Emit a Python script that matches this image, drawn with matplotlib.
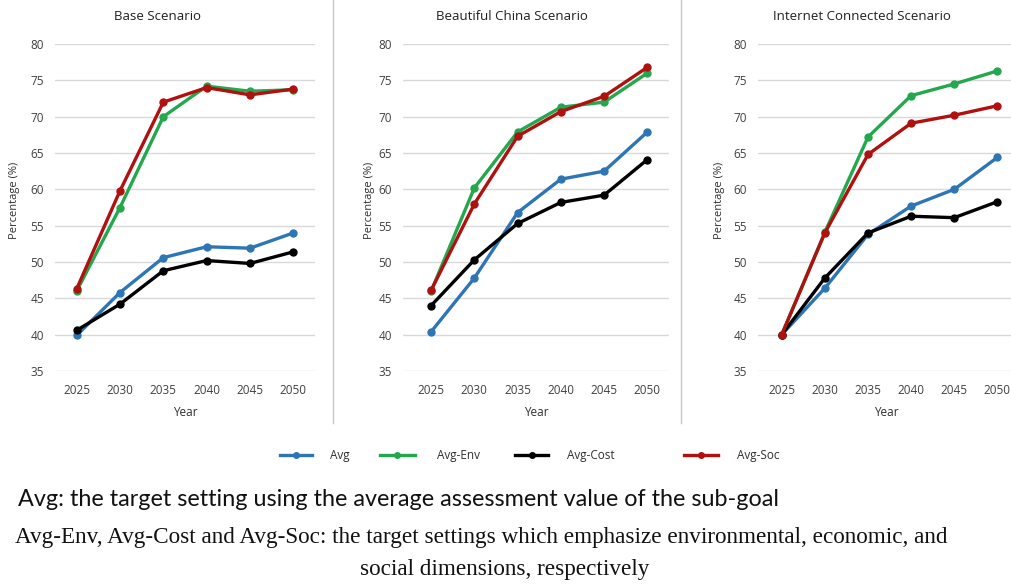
import matplotlib.pyplot as plt
from matplotlib.lines import Line2D

years = ['2025', '2030', '2035', '2040', '2045', '2050']
series_names = ['Avg', 'Avg-Env', 'Avg-Cost', 'Avg-Soc']
colors = ['#2E75B6', '#23A84E', '#000000', '#B01010']

titles = ['Base Scenario', 'Beautiful China Scenario', 'Internet Connected Scenario']

base_avg = [39.9, 45.8, 50.6, 52.1, 51.9, 54.0]
base_env = [46.0, 57.5, 70.0, 74.2, 73.5, 73.7]
base_cost = [40.6, 44.2, 48.8, 50.2, 49.8, 51.4]
base_soc = [46.3, 59.8, 72.0, 74.0, 73.0, 73.8]

china_avg = [40.4, 47.8, 56.8, 61.4, 62.5, 67.9]
china_env = [46.0, 60.2, 67.9, 71.3, 72.0, 76.0]
china_cost = [44.0, 50.3, 55.3, 58.2, 59.2, 64.1]
china_soc = [46.1, 58.0, 67.3, 70.7, 72.8, 76.8]

net_avg = [40.0, 46.4, 53.8, 57.7, 60.0, 64.4]
net_env = [40.0, 54.1, 67.2, 72.9, 74.5, 76.3]
net_cost = [40.0, 47.8, 54.0, 56.3, 56.1, 58.3]
net_soc = [40.0, 54.0, 64.8, 69.1, 70.2, 71.5]

panels = [
    [base_avg, base_env, base_cost, base_soc],
    [china_avg, china_env, china_cost, china_soc],
    [net_avg, net_env, net_cost, net_soc],
]

caption1 = 'Avg: the target setting using the average assessment value of the sub-goal'
caption2 = 'Avg-Env, Avg-Cost and Avg-Soc: the target settings which emphasize environmental, economic, and'
caption3 = 'social dimensions, respectively'

plt.rcParams['font.family'] = ['Open Sans', 'DejaVu Sans']

W, H = 1012, 586
fig = plt.figure(figsize=(W / 100, H / 100), dpi=100)

# axes boxes in pixels: left, right, top, bottom
boxes = [(55, 315, 44, 371), (403, 669, 44, 371), (758, 1019, 44, 371)]
xlims = [(-0.5, 5.5), (-0.65, 5.5), (-0.55, 5.5)]
title_x = [158, 512, 862]
ylab_x = [15, 370, 720]
year_x = [185, 536, 886]

x = list(range(len(years)))
for i, data in enumerate(panels):
    l, r, t, b = boxes[i]
    ax = fig.add_axes([l / W, 1 - b / H, (r - l) / W, (b - t) / H])
    for vals, c, name in zip(data, colors, series_names):
        ax.plot(x, vals, color=c, lw=2.4, marker='o', ms=5, label=name, zorder=3,
                clip_on=False)
    ax.set_ylim(35, 80)
    ax.set_yticks(range(35, 81, 5))
    ax.set_xlim(*xlims[i])
    ax.set_xticks(x)
    ax.set_xticklabels(years)
    ax.grid(axis='y', color='#D9D9D9', lw=1)
    ax.set_axisbelow(True)
    for s in ax.spines.values():
        s.set_visible(False)
    ax.tick_params(length=0, labelsize=8.5, colors='#404040', pad=9)
    ax.tick_params(axis='y', pad=8)
    fig.text(title_x[i] / W, 1 - 16 / H, titles[i], ha='center', va='center',
             fontsize=9.5, color='#202020')
    fig.text(ylab_x[i] / W, 1 - 200 / H, 'Percentage (%)', rotation=90,
             ha='center', va='center', fontsize=8, color='#303030')
    fig.text(year_x[i] / W, 1 - 412 / H, 'Year',
             ha='center', va='center', fontsize=8.5, color='#303030')

# panel separators
for sx in [333, 681]:
    fig.add_artist(Line2D([sx / W, sx / W], [1 - 423 / H, 1.0], color='#C8C8C8', lw=1))

# legend entries placed like the original
leg_line_x = [(280, 312), (380, 415), (515, 548), (684, 718)]
leg_text_x = [330, 437, 567, 737]
ly = 1 - 455 / H
for (x0, x1), tx, c, name in zip(leg_line_x, leg_text_x, colors, series_names):
    fig.add_artist(Line2D([x0 / W, x1 / W], [ly, ly], color=c, lw=2.4))
    fig.add_artist(Line2D([(x0 + x1) / 2 / W], [ly], color=c, marker='o', ms=4))
    fig.text(tx / W, ly, name, ha='left', va='center', fontsize=8.5, color='#303030')

# captions, sized to fit the original line widths
fig.canvas.draw()
rend = fig.canvas.get_renderer()


def fitted(xpos, ypos, s, width, family, ha='left', size=None):
    t = fig.text(xpos / W, 1 - ypos / H, s, ha=ha, va='center', fontsize=14,
                 family=family, color='#111111')
    if size is None:
        w = t.get_window_extent(rend).width
        size = 14 * width / w
    t.set_fontsize(size)
    return size


serif = ['Liberation Serif', 'DejaVu Serif']
fitted(18, 500, caption1, 760, ['Lato', 'DejaVu Sans'])
sz = fitted(15, 537, caption2, 938, serif)
fitted(505, 570, caption3, 0, serif, ha='center', size=sz)

fig.savefig('out.png', dpi=100)
